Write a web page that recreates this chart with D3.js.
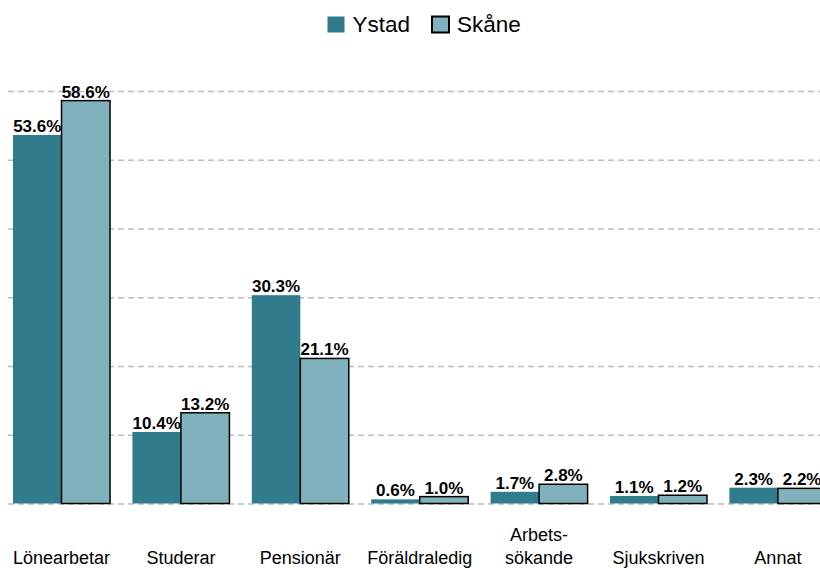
<!DOCTYPE html>
<html>
<head>
<meta charset="utf-8">
<script src="https://cdn.jsdelivr.net/npm/d3@7/dist/d3.min.js"></script>
<style>
	body { margin:0; background:#fff; }
	svg { display:block; font-family:"Liberation Sans", Arial, sans-serif; }
</style>
</head>
<body>
<div id="chart"></div>
<script>
'use strict';

var categories = ["Lönearbetar", "Studerar", "Pensionär", "Föräldraledig", "Arbets-sökande", "Sjukskriven", "Annat"];
var series = ["Ystad", "Skåne"];
var ystad = [53.6, 10.4, 30.3, 0.6, 1.7, 1.1, 2.3];
var skane = [58.6, 13.2, 21.1, 1.0, 2.8, 1.2, 2.2];
var yTicks = [0, 10, 20, 30, 40, 50, 60];

var colors = { "Ystad":"#307b8c", "Skåne":"#7fb2bc" };

var W = 820, H = 568;

var rows = categories.map((c, i) => ({ cat:c, values:[
	{ key:"Ystad", value:ystad[i] },
	{ key:"Skåne", value:skane[i] }
]}));

var svg = d3.select("#chart")
			.append("svg")
			.attr("width", W)
			.attr("height", H);

var x = d3.scaleBand()
		  .domain(categories)
		  .range([1.8, 837.6])
		  .paddingInner(0.1876)
		  .paddingOuter(0.094);

var xs = d3.scaleBand()
		   .domain(series)
		   .range([0, x.bandwidth()]);

var y = d3.scaleLinear()
		  .domain([0, 60])
		  .range([503.5, 91]);

// grid
var grid = d3.axisLeft(y)
			 .tickValues(yTicks)
			 .tickSize(-(W - 8))
			 .tickFormat("");

svg.append("g")
   .attr("class", "grid")
   .attr("transform", "translate(8,0)")
   .call(grid)
   .call(g => g.select(".domain").remove())
   .call(g => g.selectAll("line")
			   .attr("stroke", "#bdbdbd")
			   .attr("stroke-width", 1.5)
			   .attr("stroke-dasharray", "6,4"));

// bars
var groups = svg.append("g")
				.selectAll("g")
				.data(rows)
				.join("g")
				.attr("transform", d => `translate(${x(d.cat)},0)`);

groups.selectAll("rect")
	  .data(d => d.values)
	  .join("rect")
	  .attr("x", d => xs(d.key))
	  .attr("y", d => y(d.value))
	  .attr("width", xs.bandwidth())
	  .attr("height", d => y(0) - y(d.value))
	  .attr("fill", d => colors[d.key])
	  .attr("stroke", d => d.key == "Skåne" ? "#000" : "none")
	  .attr("stroke-width", 1.5);

var fmt = d3.format(".1f");

groups.selectAll("text")
	  .data(d => d.values)
	  .join("text")
	  .attr("x", d => xs(d.key) + xs.bandwidth() / 2)
	  .attr("y", d => y(d.value) - 3)
	  .attr("text-anchor", "middle")
	  .attr("font-size", 17)
	  .attr("font-weight", "bold")
	  .attr("fill", "#000")
	  .text(d => fmt(d.value) + "%");

// category labels
var xAxis = d3.axisBottom(x).tickSize(0).tickPadding(0);

svg.append("g")
   .attr("transform", "translate(0,0)")
   .call(xAxis)
   .call(g => g.select(".domain").remove())
   .call(g => g.selectAll(".tick text").remove())
   .call(g => g.selectAll(".tick").each(function(d) {
		var parts = d.split("-");
		var lines = parts.length > 1 ? [parts[0] + "-", parts[1]] : [d];
		var t = d3.select(this).append("text")
				  .attr("text-anchor", "middle")
				  .attr("font-size", 18)
				  .attr("fill", "#000");
		lines.forEach((l, i) => {
			t.append("tspan")
			 .attr("x", 0)
			 .attr("y", 564 - (lines.length - 1 - i) * 23.5)
			 .text(l);
		});
   }));

// legend
var legendX = { "Ystad":327.5, "Skåne":432 };

var legend = svg.append("g")
				.selectAll("g")
				.data(series)
				.join("g")
				.attr("transform", d => `translate(${legendX[d]},16.5)`);

legend.append("rect")
	  .attr("width", 17)
	  .attr("height", 16)
	  .attr("fill", d => colors[d])
	  .attr("stroke", d => d == "Skåne" ? "#000" : "none")
	  .attr("stroke-width", 2);

legend.append("text")
	  .attr("x", 25)
	  .attr("y", 15.5)
	  .attr("font-size", 22.5)
	  .attr("fill", "#000")
	  .text(d => d);
</script>
</body>
</html>
